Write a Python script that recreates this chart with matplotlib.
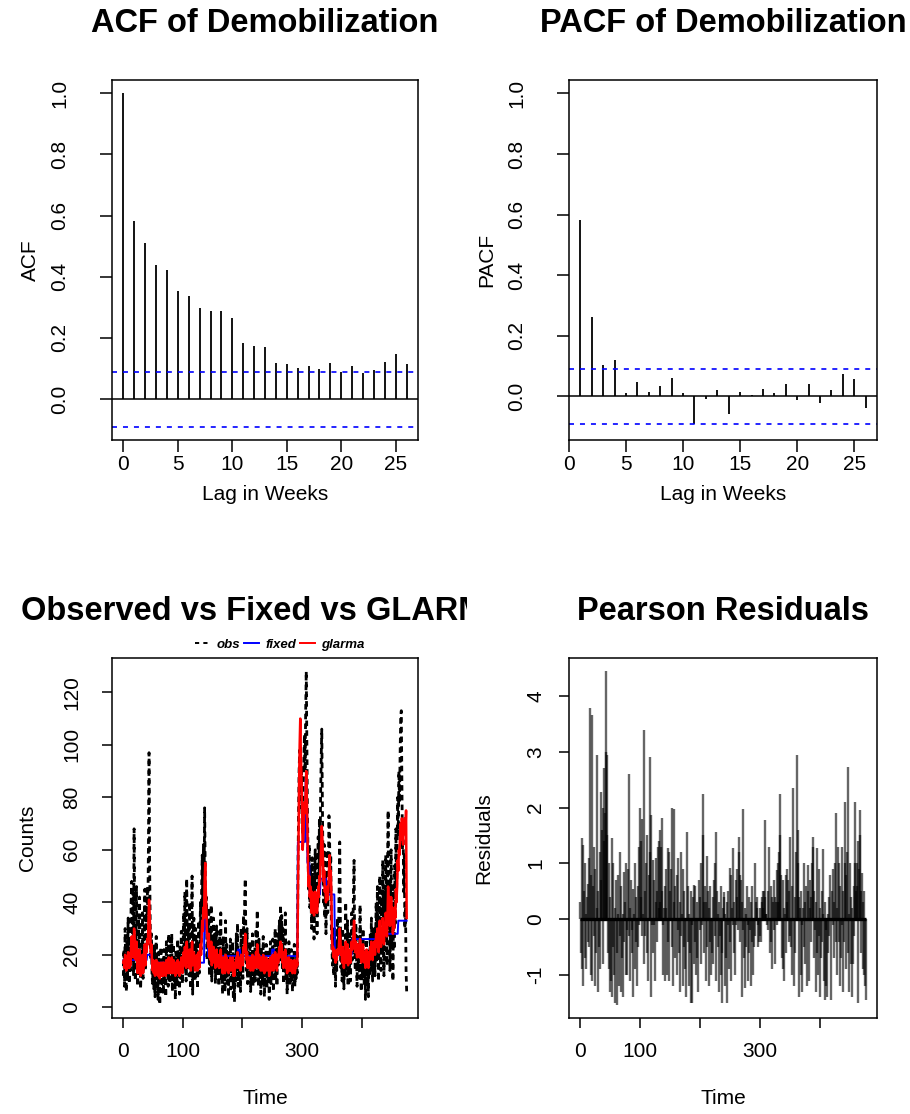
import numpy as np
import matplotlib
matplotlib.use('Agg')
import matplotlib.pyplot as plt
from matplotlib.lines import Line2D
from matplotlib.transforms import Bbox, TransformedBbox

plt.rcParams['font.family'] = ['Liberation Sans', 'DejaVu Sans']
plt.rcParams['lines.scale_dashes'] = False

# ---- ACF / PACF of weekly demobilization counts ----
acf_lags = np.arange(0, 27)
acf_vals = [1.0, 0.584, 0.512, 0.439, 0.422, 0.355, 0.337, 0.299, 0.287, 0.287,
            0.264, 0.184, 0.175, 0.169, 0.118, 0.115, 0.103, 0.107, 0.098, 0.117,
            0.088, 0.107, 0.084, 0.096, 0.121, 0.149, 0.116]
pacf_lags = np.arange(1, 27)
pacf_vals = [0.582, 0.263, 0.105, 0.120, 0.011, 0.049, 0.016, 0.034, 0.062, 0.012,
             -0.090, -0.008, 0.020, -0.057, 0.014, 0.003, 0.025, 0.011, 0.042, -0.013,
             0.040, -0.022, 0.022, 0.073, 0.057, -0.038]
ci = 0.09
pacf_ylim = (-0.1, 1.0)

# ---- weekly counts, fitted values, residuals ----
obs = [12, 22, 8, 30, 15, 6, 25, 11, 34, 18, 9, 27, 14, 40, 48, 20, 44, 12, 68, 30,
       10, 26, 46, 16, 8, 34, 13, 42, 19, 7, 24, 15, 36, 11, 20, 29, 45, 14, 38, 30,
       46, 35, 62, 97, 54, 32, 18, 28, 12, 9, 20, 7, 24, 4, 14, 27, 8, 17, 3, 21,
       11, 1, 16, 23, 6, 13, 19, 5, 22, 10, 15, 4, 25, 12, 18, 8, 28, 14, 9, 26,
       13, 28, 6, 17, 24, 10, 14, 3, 21, 16, 8, 26, 12, 19, 5, 23, 11, 29, 15, 9,
       22, 36, 14, 44, 20, 10, 49, 26, 16, 32, 12, 40, 18, 7, 28, 50, 5, 24, 34, 16,
       10, 30, 18, 26, 7, 20, 33, 13, 24, 40, 22, 46, 58, 36, 62, 44, 76, 52, 30, 42,
       18, 33, 26, 38, 12, 30, 16, 39, 10, 26, 20, 34, 14, 28, 9, 22, 31, 12, 25, 18,
       8, 29, 16, 36, 11, 22, 5, 27, 14, 19, 6, 33, 12, 24, 9, 17, 4, 21, 13, 26,
       7, 18, 11, 25, 3, 15, 2, 20, 10, 28, 14, 32, 8, 22, 12, 18, 6, 30, 16, 24,
       11, 35, 20, 42, 49, 26, 14, 30, 9, 22, 16, 12, 25, 6, 19, 13, 28, 8, 17, 11,
       23, 10, 30, 15, 37, 20, 8, 26, 12, 18, 5, 22, 14, 9, 27, 11, 4, 19, 13, 24,
       7, 17, 10, 21, 3, 14, 25, 9, 18, 12, 26, 6, 20, 15, 30, 11, 22, 8, 28, 16,
       24, 33, 18, 39, 27, 35, 14, 30, 9, 22, 16, 36, 11, 20, 5, 18, 12, 25, 8, 15,
       10, 22, 14, 6, 19, 12, 24, 8, 16, 11, 20, 13, 48, 72, 90, 98, 84, 76, 92, 70,
       66, 84, 95, 104, 90, 112, 128, 100, 76, 58, 45, 62, 38, 52, 41, 30, 57, 34, 48, 26,
       44, 60, 37, 52, 28, 46, 65, 40, 72, 54, 80, 95, 106, 78, 56, 40, 62, 34, 50, 28,
       46, 60, 36, 52, 73, 66, 44, 58, 30, 22, 16, 26, 12, 30, 18, 8, 24, 14, 34, 20,
       28, 45, 63, 36, 15, 24, 10, 30, 18, 7, 22, 13, 40, 26, 12, 33, 8, 20, 14, 28,
       10, 24, 36, 18, 30, 44, 56, 25, 14, 32, 20, 8, 27, 15, 22, 11, 39, 18, 6, 24,
       12, 30, 16, 9, 21, 3, 14, 26, 8, 18, 4, 22, 12, 28, 16, 34, 20, 10, 30, 24,
       30, 12, 26, 40, 18, 46, 28, 10, 36, 50, 22, 14, 42, 20, 56, 30, 12, 44, 26, 58,
       38, 16, 52, 75, 30, 48, 14, 36, 60, 24, 46, 10, 40, 22, 54, 32, 68, 42, 58, 80,
       66, 90, 78, 96, 110, 113, 88, 60, 70, 44, 58, 30, 40, 14, 6]

glarma = [17, 18, 15, 20, 18, 14, 18, 15, 21, 19, 15, 19, 16, 23, 27, 21, 26, 19, 30, 25,
          19, 18, 25, 19, 13, 19, 15, 22, 18, 12, 17, 14, 20, 13, 16, 20, 24, 16, 23, 21,
          26, 24, 32, 41, 36, 28, 21, 24, 17, 14, 18, 13, 17, 12, 14, 18, 13, 16, 12, 17,
          14, 11, 15, 17, 12, 14, 17, 12, 17, 13, 15, 12, 18, 14, 17, 13, 19, 16, 13, 18,
          15, 19, 13, 16, 18, 13, 15, 12, 17, 15, 13, 18, 14, 17, 12, 17, 14, 19, 16, 13,
          18, 21, 16, 23, 19, 15, 25, 21, 17, 21, 15, 22, 18, 14, 20, 25, 16, 18, 21, 17,
          14, 19, 17, 20, 14, 17, 21, 15, 19, 24, 20, 26, 33, 29, 38, 34, 48, 55, 44, 36,
          28, 26, 23, 28, 19, 23, 18, 25, 16, 20, 19, 23, 17, 21, 15, 19, 22, 16, 20, 18,
          15, 20, 17, 22, 15, 18, 13, 19, 16, 17, 13, 20, 16, 19, 14, 17, 13, 18, 16, 19,
          14, 16, 15, 19, 12, 15, 12, 17, 15, 19, 17, 21, 15, 19, 16, 18, 14, 20, 18, 19,
          16, 23, 21, 25, 28, 24, 18, 21, 15, 19, 17, 15, 19, 14, 18, 16, 20, 14, 17, 15,
          19, 15, 21, 18, 24, 21, 15, 20, 16, 18, 14, 19, 17, 14, 20, 16, 13, 18, 16, 19,
          14, 17, 15, 18, 12, 15, 19, 14, 18, 16, 20, 14, 18, 16, 21, 15, 19, 14, 20, 17,
          20, 23, 19, 25, 22, 24, 17, 21, 15, 19, 17, 22, 15, 19, 13, 17, 15, 19, 14, 16,
          14, 18, 16, 13, 17, 15, 18, 13, 16, 15, 18, 16, 40, 62, 85, 100, 110, 96, 88, 76,
          60, 64, 70, 78, 74, 82, 90, 80, 66, 54, 46, 50, 42, 46, 40, 36, 44, 37, 40, 35,
          38, 44, 39, 43, 36, 40, 46, 42, 50, 48, 56, 62, 69, 64, 56, 48, 52, 44, 46, 40,
          42, 46, 41, 45, 52, 58, 50, 52, 44, 26, 22, 23, 19, 22, 19, 17, 20, 18, 22, 20,
          21, 25, 30, 27, 20, 22, 17, 23, 19, 15, 20, 17, 25, 22, 17, 24, 16, 20, 17, 22,
          17, 21, 25, 22, 24, 28, 33, 27, 21, 25, 23, 19, 24, 21, 22, 19, 26, 22, 17, 22,
          19, 24, 20, 17, 21, 15, 18, 22, 16, 19, 15, 21, 18, 23, 20, 25, 22, 18, 24, 22,
          25, 20, 24, 28, 23, 30, 27, 21, 27, 33, 26, 23, 30, 25, 34, 30, 24, 32, 28, 36,
          33, 27, 35, 46, 37, 42, 31, 34, 42, 33, 38, 28, 34, 30, 38, 34, 45, 40, 46, 56,
          52, 60, 58, 66, 70, 64, 72, 68, 62, 70, 66, 72, 68, 75, 34]

# fixed-effects fit is piecewise flat: level and number of weeks
fixed_levels = [18, 20, 17, 43, 28, 19.5, 22, 19.5, 22, 19.5, 63, 87, 55, 43, 49, 43, 20, 26, 28, 33]
fixed_weeks = [40, 8, 88, 3, 3, 50, 4, 53, 4, 39, 13, 3, 4, 18, 10, 14, 29, 47, 30, 15]

resid = [0.3, -0.6, 1.45, -0.9, 1.33, -1.2, 0.5, -0.7, 1.0, 0.1, -0.9, 0.4, -0.4, 0.64, 1.1, -0.5, 3.78, -1.0, 0.8, 3.66,
         -1.1, 0.6, 1.3, -0.3, -1.2, 0.9, -0.6, 2.94, 0.2, -1.3, 0.5, -0.5, 1.2, -0.9, 2.28, 0.7, 1.6, -0.8, 2.0, 1.4,
         2.7, 1.9, 3.0, 4.44, 1.5, 2.94, -0.6, 1.0, -0.9, -1.3, 0.4, -1.1, 1.45, -1.4, -0.5, 1.0, -1.0, 0.2, -1.5, 0.7,
         -0.6, -1.53, 0.1, 0.8, -1.2, -0.3, 1.2, -1.3, 0.6, -0.7, 0.1, -1.4, 0.85, -0.4, 0.3, -1.0, 1.0, -0.2, -1.0, 0.9,
         -0.3, 2.61, -1.1, 0.2, 0.7, -0.6, -0.2, -1.4, 0.55, 0.1, -0.9, 1.0, -0.4, 0.4, -1.2, 0.6, -0.5, 1.3, -0.1, 2.0,
         0.4, 1.4, -0.3, 1.8, 0.1, -0.8, 3.39, 0.5, -0.3, 1.0, -0.6, 1.5, 0.0, -1.1, 0.8, 1.2, 2.9, -1.4, 1.87, -0.1,
         -0.6, 1.06, -0.1, 0.7, -1.1, 0.3, 1.1, -0.4, 0.5, 1.3, 0.2, 1.4, 1.6, 0.3, 1.3, 0.5, 1.81, -0.1, -1.0, 0.2,
         -1.1, 0.6, 0.2, 0.9, -1.0, 1.27, -0.4, 1.2, -1.1, 0.5, 0.0, 0.9, -0.5, 2.0, -1.2, 0.3, 1.98, -0.7, 0.6, 0.0,
         -1.0, 0.8, -0.2, 1.09, -0.6, 0.3, -1.3, 1.2, -0.3, 0.1, -1.2, 0.9, -0.5, 0.5, -0.9, 0.0, -1.4, 1.56, -0.4, 0.6,
         -1.2, 0.1, -0.6, 0.5, -1.5, -0.1, -1.5, 0.4, -0.8, 0.61, -0.4, 0.6, -1.0, 0.3, -0.7, 0.0, -1.3, 0.7, -0.2, 0.4,
         -0.8, 1.0, -0.1, 1.5, 2.25, 0.3, -0.6, 0.6, -1.1, 0.3, 1.13, -0.5, 0.5, -1.2, 0.2, -0.4, 0.6, -1.0, 0.0, -0.6,
         0.4, -0.8, 0.7, -0.3, 1.0, 1.56, -1.1, 0.5, -0.5, 0.1, -1.3, 0.3, -0.3, -1.0, 0.6, -0.6, -1.5, 0.2, 0.49, 0.4,
         -1.2, 0.1, -0.7, 0.3, -1.5, -0.1, 0.5, -0.9, 0.91, -0.4, 0.8, -1.1, 0.2, -0.1, 1.28, -0.6, 0.3, -1.0, 0.7, -0.1,
         0.4, 0.9, -0.2, 1.2, 1.47, 0.8, -0.4, 0.7, -1.4, 0.3, -0.2, 1.98, -0.7, 0.2, -1.24, 0.1, -0.5, 0.6, -1.1, -0.1,
         -0.6, 0.4, -0.2, -1.2, 0.3, -0.4, 0.6, -1.0, 0.0, -0.5, 1.0, -0.3, 0.3, 0.4, 0.2, -0.1, -0.5, -0.4, 0.2, -0.3,
         -0.4, 0.3, 0.4, 0.5, 0.2, 0.5, 1.77, 0.4, 0.1, 0.1, -0.1, 0.5, -0.2, 1.3, 0.0, -0.6, 0.6, -0.4, 0.4, -0.9,
         0.3, 0.7, -0.2, 0.4, -0.8, 0.3, 0.88, -0.1, 1.0, 0.3, 1.2, 2.25, 1.5, 0.8, 0.0, -0.7, 0.7, -0.9, 0.2, -1.1,
         0.1, 0.8, -0.6, 0.3, 0.9, 0.7, -0.4, 0.5, 1.47, -0.3, -0.5, 0.6, -1.0, 2.35, 0.0, -1.2, 0.4, -0.6, 1.2, 0.0,
         2.94, 1.0, 1.6, 0.4, -1.39, 0.2, -1.0, 0.5, -0.1, -1.3, 0.2, -0.5, 1.0, 0.3, -0.8, 0.6, -1.2, 0.0, 0.97, 0.5,
         -1.1, 0.2, 0.7, -0.4, 0.4, 1.0, 1.3, 1.48, -0.7, 0.5, -0.2, -1.3, 0.3, -0.6, 1.28, -1.0, 0.9, -0.3, -1.4, 0.2,
         -0.7, 0.5, -0.4, 1.26, 0.1, -1.1, -1.45, 0.3, -1.2, -0.2, -1.4, 0.1, -0.6, 0.4, -0.3, 0.8, 0.0, -1.45, 0.5, -0.1,
         0.9, -0.7, 0.3, 1.0, -0.4, 1.9, 0.2, -1.0, 1.3, 1.0, -0.4, -1.2, 0.6, -0.7, 1.3, -0.1, -1.3, 0.5, -0.4, 1.0,
         2.1, -0.9, 0.8, 1.2, -0.6, 2.72, -1.3, 0.1, 1.0, -0.8, 0.4, -1.4, 0.2, -0.8, 0.6, -0.3, 1.0, 2.1, 0.5, 1.0,
         0.6, -1.5, 1.4, 0.9, 1.95, 1.5, 0.5, -0.6, 0.82, -0.9, 0.3, -1.0, 0.5, -1.2, -1.45]

time = np.arange(1, len(obs) + 1)
fixed = np.repeat(fixed_levels, fixed_weeks)

W, H = 910, 1114
fig = plt.figure(figsize=(W / 100, H / 100), dpi=100)
fig.patch.set_facecolor('white')


def panel(left, top, width, height=360):
    return fig.add_axes([left / W, 1 - (top + height) / H, width / W, height / H])


def r_style(ax, ticklen, xpad, ypad):
    for s in ax.spines.values():
        s.set_linewidth(1.1)
    ax.tick_params(direction='out', length=ticklen, width=1.1, labelsize=15)
    ax.tick_params(axis='x', pad=xpad)
    ax.tick_params(axis='y', pad=ypad)


def labels(ax, title, xlab, ylab, title_off, xlab_off, ylab_off):
    t = ax.text(0.5, 1 + title_off / 360, title, transform=ax.transAxes,
                ha='center', va='center', fontsize=23.5, fontweight='bold')
    ax.set_xlabel(xlab, fontsize=15)
    ax.set_ylabel(ylab, fontsize=15)
    ax.xaxis.label.set_va('center')
    ax.yaxis.label.set_va('center')
    ax.xaxis.set_label_coords(0.5, -xlab_off / 360)
    ax.yaxis.set_label_coords(-ylab_off / 306, 0.5)
    return t


def pad_range(lo, hi):
    d = (hi - lo) * 0.04
    return lo - d, hi + d


# ACF
ax1 = panel(112, 80, 306)
ax1.vlines(acf_lags, 0, acf_vals, color='black', lw=1.3)
ax1.axhline(0, color='black', lw=1.1)
for c in (ci, -ci):
    ax1.axhline(c, color='blue', lw=1.2, dashes=(3.6, 4.3))
ax1.set_xlim(*pad_range(acf_lags[0], acf_lags[-1]))
ax1.set_ylim(*pad_range(min(min(acf_vals), -ci), max(max(acf_vals), ci)))
ax1.set_xticks(np.arange(0, 26, 5))
ax1.set_yticks(np.arange(0, 1.01, 0.2))
ax1.set_yticklabels(['%.1f' % v for v in np.arange(0, 1.01, 0.2)], rotation=90, va='center')
r_style(ax1, 8.6, 2.5, 22)
labels(ax1, 'ACF of Demobilization', 'Lag in Weeks', 'ACF', 56, 55, 82)

# PACF
ax2 = panel(569, 80, 308)
ax2.vlines(pacf_lags, 0, pacf_vals, color='black', lw=1.3)
ax2.axhline(0, color='black', lw=1.1)
for c in (ci, -ci):
    ax2.axhline(c, color='blue', lw=1.2, dashes=(3.6, 4.3))
ax2.set_xlim(*pad_range(pacf_lags[0], pacf_lags[-1]))
ax2.set_ylim(*pad_range(*pacf_ylim))
ax2.set_xticks(np.arange(0, 26, 5))
ax2.set_yticks(np.arange(0, 1.01, 0.2))
ax2.set_yticklabels(['%.1f' % v for v in np.arange(0, 1.01, 0.2)], rotation=90, va='center')
r_style(ax2, 8.6, 2.5, 22)
labels(ax2, 'PACF of Demobilization', 'Lag in Weeks', 'PACF', 56, 55, 82)

# observed vs fitted
ax3 = panel(112, 658, 306)
ax3.plot(time, obs, color='black', lw=2.0, dashes=(4, 3))
ax3.plot(time, fixed, color='blue', lw=1.4)
ax3.plot(time, glarma, color='red', lw=1.8)
ax3.margins(0.04)
ax3.set_xticks([0, 100, 200, 300, 400])
ax3.set_xticklabels(['0', '100', '', '300', ''])
ax3.set_yticks(np.arange(0, 121, 20))
ax3.set_yticklabels([str(v) for v in range(0, 121, 20)], rotation=90, va='center')
r_style(ax3, 7.2, 10, 15)
t3 = labels(ax3, 'Observed vs Fixed vs GLARMA', 'Time', 'Counts', 46, 80, 84)
t3.set_clip_box(TransformedBbox(Bbox([[0, 0], [467 / W, 1]]), fig.transFigure))
t3.set_clip_on(True)
handles = [Line2D([], [], color='black', lw=1.4, dashes=(3, 3)),
           Line2D([], [], color='blue', lw=1.4),
           Line2D([], [], color='red', lw=1.4)]
ax3.legend(handles, ['obs', 'fixed', 'glarma'], loc='center', ncol=3,
           bbox_to_anchor=((280 - 112) / 306, 1 + 13 / 360), frameon=False,
           prop={'size': 9.5, 'weight': 'bold', 'style': 'italic'},
           handlelength=1.1, handletextpad=0.5, columnspacing=0.3, borderpad=0.1)

# Pearson residuals
ax4 = panel(569, 658, 308)
ax4.vlines(time, 0, resid, color='black', lw=1.7, alpha=0.6)
ax4.hlines(0, time[0], time[-1], color='black', lw=2.4)
ax4.margins(0.04)
ax4.set_xticks([0, 100, 200, 300, 400])
ax4.set_xticklabels(['0', '100', '', '300', ''])
ax4.set_yticks(np.arange(-1, 5))
ax4.set_yticklabels([str(v) for v in range(-1, 5)], rotation=90, va='center')
r_style(ax4, 7.2, 10, 10)
labels(ax4, 'Pearson Residuals', 'Time', 'Residuals', 46, 80, 85)

fig.savefig('out.png', dpi=100)
